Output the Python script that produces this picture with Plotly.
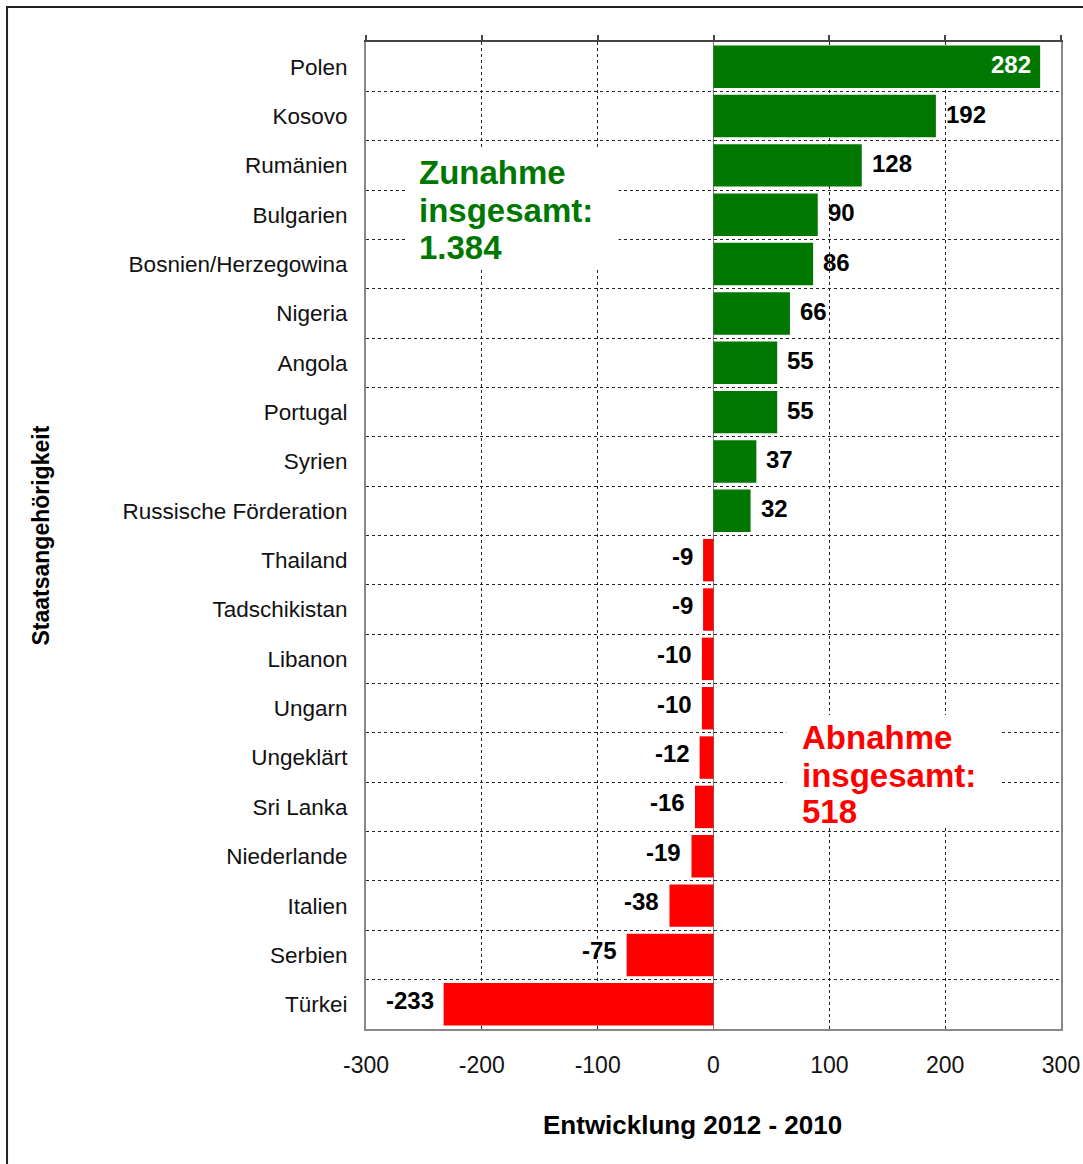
import plotly.graph_objects as go

countries = ["Polen", "Kosovo", "Rumänien", "Bulgarien", "Bosnien/Herzegowina", "Nigeria",
             "Angola", "Portugal", "Syrien", "Russische Förderation", "Thailand", "Tadschikistan",
             "Libanon", "Ungarn", "Ungeklärt", "Sri Lanka", "Niederlande", "Italien", "Serbien", "Türkei"]
values = [282, 192, 128, 90, 86, 66, 55, 55, 37, 32, -9, -9, -10, -10, -12, -16, -19, -38, -75, -233]
x_ticks = [-300, -200, -100, 0, 100, 200, 300]
increase_lines = ["Zunahme", "insgesamt:", "1.384"]
decrease_lines = ["Abnahme", "insgesamt:", "518"]

GREEN = "#007800"
RED = "#ff0000"
FONT = "Liberation Sans, Arial, sans-serif"

colors = [GREEN if v > 0 else RED for v in values]

fig = go.Figure()
fig.add_trace(go.Bar(
    x=values, y=countries, orientation="h",
    marker=dict(color=colors, line=dict(width=0)),
    width=0.86, hoverinfo="x+y", showlegend=False,
))
# empty helper trace so the top axis (ticks only) is drawn
fig.add_trace(go.Scatter(x=[], y=[], xaxis="x2", yaxis="y", showlegend=False,
                         hoverinfo="skip", mode="markers"))

# value labels
max_v = max(values)
for c, v in zip(countries, values):
    if v == max_v:
        fig.add_annotation(x=v, y=c, xref="x", yref="y", text=str(v), showarrow=False,
                           xanchor="right", xshift=-7, yshift=2,
                           font=dict(family=FONT, size=24, color="white", weight="bold"))
    elif v > 0:
        fig.add_annotation(x=v, y=c, xref="x", yref="y", text=str(v), showarrow=False,
                           xanchor="left", xshift=8, yshift=2,
                           font=dict(family=FONT, size=24, color="black", weight="bold"))
    else:
        fig.add_annotation(x=v, y=c, xref="x", yref="y", text=str(v), showarrow=False,
                           xanchor="right", xshift=-8, yshift=4,
                           font=dict(family=FONT, size=24, color="black", weight="bold"))

# summary boxes (white backgrounds hide the grid)
fig.add_shape(type="rect", xref="x", yref="paper", x0=-266, x1=-82, y0=0.771, y1=0.8936,
              fillcolor="white", line=dict(width=0), layer="above")
fig.add_shape(type="rect", xref="x", yref="paper", x0=63, x1=249, y0=0.2036, y1=0.3181,
              fillcolor="white", line=dict(width=0), layer="above")
for txt, yp in zip(increase_lines, [0.8673, 0.8288, 0.7913]):
    fig.add_annotation(x=-256, y=yp, xref="x", yref="paper", showarrow=False,
                       xanchor="left", yanchor="middle", text=txt,
                       font=dict(family=FONT, size=33, color=GREEN, weight="bold"))
for txt, yp in zip(decrease_lines, [0.2958, 0.2573, 0.2199]):
    fig.add_annotation(x=74.5, y=yp, xref="x", yref="paper", showarrow=False,
                       xanchor="left", yanchor="middle", text=txt,
                       font=dict(family=FONT, size=33, color=RED, weight="bold"))

# axis titles
fig.add_annotation(x=0.4705, y=-0.0975, xref="paper", yref="paper", showarrow=False,
                   xanchor="center", yanchor="middle", text="Entwicklung 2012 - 2010",
                   font=dict(family=FONT, size=26, color="black", weight="bold"))
fig.add_annotation(x=-0.469, y=0.5, xref="paper", yref="paper", showarrow=False,
                   textangle=-90, xanchor="center", yanchor="middle",
                   text="Staatsangehörigkeit",
                   font=dict(family=FONT, size=23, color="black", weight="bold"))

# outer frame
fig.add_shape(type="rect", xref="paper", yref="paper",
              x0=-0.5165, x1=1.06, y0=-0.16, y1=1.0355,
              line=dict(color="#222222", width=2), fillcolor="rgba(0,0,0,0)", layer="below")

fig.update_layout(
    width=1083, height=1164,
    margin=dict(l=366, r=22, t=42, b=135, autoexpand=False),
    paper_bgcolor="white", plot_bgcolor="white",
    font=dict(family=FONT, color="#111111"),
    xaxis=dict(
        range=[-300, 300], tickvals=x_ticks, ticktext=[str(t) for t in x_ticks],
        showgrid=True, gridcolor="#222222", griddash="3px,3px", gridwidth=1.2,
        zeroline=True, zerolinecolor="#777777", zerolinewidth=1,
        showline=True, linecolor="#888888", linewidth=2, mirror=True,
        ticks="", tickfont=dict(family=FONT, size=23, color="#111111"),
        ticklabelstandoff=14, automargin=False,
    ),
    xaxis2=dict(overlaying="x", side="top", range=[-300, 300], tickvals=x_ticks,
                showticklabels=False, showgrid=False, zeroline=False,
                showline=True, linecolor="#444444", linewidth=2,
                ticks="outside", ticklen=5, tickwidth=2, tickcolor="#444444",
                automargin=False),
    yaxis=dict(
        type="category", categoryorder="array", categoryarray=countries, autorange="reversed",
        tickson="boundaries", showgrid=True, gridcolor="#222222", griddash="3px,3px", gridwidth=1.2,
        showline=True, linecolor="#888888", linewidth=2, mirror=True,
        ticks="", tickfont=dict(family=FONT, size=22.5, color="#111111"),
        ticklabelstandoff=12, automargin=False,
    ),
)

fig.write_html("out.html")
